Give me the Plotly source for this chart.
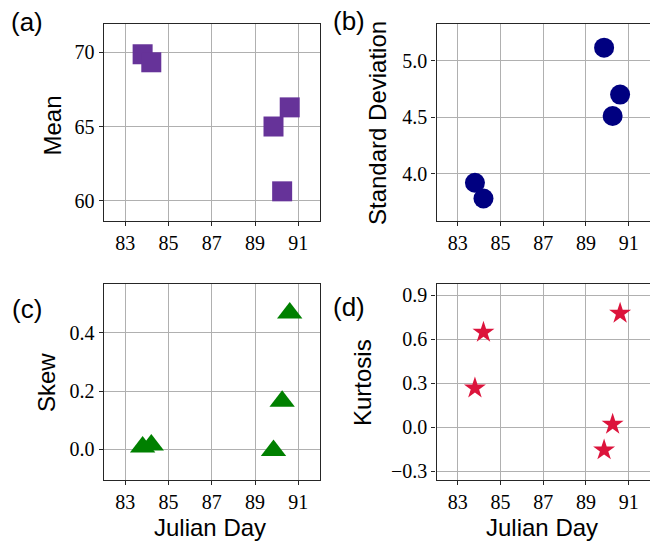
import plotly.graph_objects as go

# ---- data ----
julian_day = [83.8, 84.2, 89.85, 90.25, 90.6]
mean_vals = [69.87, 69.33, 65.0, 60.63, 66.29]
std_vals = [3.92, 3.78, 5.115, 4.51, 4.70]
skew_vals = [0.008, 0.015, -0.004, 0.165, 0.468]
kurt_vals = [0.266, 0.646, -0.155, 0.02, 0.775]

x_ticks = [83, 85, 87, 89, 91]
x_ticktext = ["83", "85", "87", "89", "91"]
mean_ticks = [60, 65, 70]
mean_ticktext = ["60", "65", "70"]
std_ticks = [4.0, 4.5, 5.0]
std_ticktext = ["4.0", "4.5", "5.0"]
skew_ticks = [0.0, 0.2, 0.4]
skew_ticktext = ["0.0", "0.2", "0.4"]
kurt_ticks = [-0.3, 0.0, 0.3, 0.6, 0.9]
kurt_ticktext = ["\u22120.3", "0.0", "0.3", "0.6", "0.9"]

W, H = 650, 543
SERIF = "Liberation Serif"
LABELFONT = dict(family="Liberation Sans, Arial, sans-serif", size=24, color="#000000")
PANELFONT = dict(family="Liberation Sans, Arial, sans-serif", size=26, color="#000000")


def px_x(v):
    return v / W


def px_y(v):
    return 1 - v / H


fig = go.Figure()

panels = [
    ("x", "y", mean_vals, "square", 20, "#663399", (103.7, 320.0), (24.3, 221.0), [58.63, 71.89], mean_ticks, mean_ticktext),
    ("x2", "y2", std_vals, "circle", 20, "#000080", (436.5, 650.0), (24.3, 221.0), [3.581, 5.322], std_ticks, std_ticktext),
    ("x3", "y3", skew_vals, "triangle-up", 22, "#008000", (103.7, 320.0), (284.0, 480.0), [-0.1055, 0.568], skew_ticks, skew_ticktext),
    ("x4", "y4", kurt_vals, "star", 16.5, "#DC143C", (436.5, 650.0), (284.0, 480.0), [-0.359, 0.975], kurt_ticks, kurt_ticktext),
]

for i, (xa, ya, yv, sym, sz, col, xd, yd, yr, yt, ytt) in enumerate(panels):
    fig.add_trace(go.Scatter(
        x=julian_day, y=yv, mode="markers", xaxis=xa, yaxis=ya,
        marker=dict(symbol=sym, size=sz, color=col, line=dict(width=0)),
        showlegend=False, cliponaxis=False,
    ))
    xkey = "xaxis" if i == 0 else f"xaxis{i+1}"
    ykey = "yaxis" if i == 0 else f"yaxis{i+1}"
    common = dict(
        showgrid=True, gridcolor="#b0b0b0", gridwidth=1,
        showline=True, linecolor="#262626", linewidth=1.3, mirror=True,
        ticks="outside", ticklen=4, tickwidth=1, tickcolor="#262626",
        zeroline=False, automargin=False,
    )
    fig.update_layout({
        xkey: dict(domain=[px_x(xd[0]), min(1.0, px_x(xd[1]))], range=[82, 92],
                   tickmode="array", tickvals=x_ticks, ticktext=x_ticktext,
                   tickfont=dict(family=SERIF, size=20, color="#000000"),
                   anchor=ya, **common),
        ykey: dict(domain=[px_y(yd[1]), px_y(yd[0])], range=yr,
                   tickmode="array", tickvals=yt, ticktext=ytt,
                   tickfont=dict(family=SERIF, size=20, color="#000000"),
                   anchor=xa, **common),
    })

annotations = []
for text, cx, cy, rot in [
    ("Mean", 52.5, 126, -90),
    ("Standard Deviation", 378, 123, -90),
    ("Skew", 46, 383, -90),
    ("Kurtosis", 362, 383, -90),
    ("Julian Day", 210, 527, 0),
    ("Julian Day", 542, 527, 0),
]:
    annotations.append(dict(text=text, x=px_x(cx), y=px_y(cy), xref="paper", yref="paper",
                            xanchor="center", yanchor="middle", showarrow=False,
                            textangle=rot, font=LABELFONT))
for text, cx, cy in [("(a)", 27, 22), ("(b)", 349, 21), ("(c)", 27, 309), ("(d)", 349, 307)]:
    annotations.append(dict(text=text, x=px_x(cx), y=px_y(cy), xref="paper", yref="paper",
                            xanchor="center", yanchor="middle", showarrow=False,
                            font=PANELFONT))

fig.update_layout(
    width=W, height=H,
    margin=dict(l=0, r=0, t=0, b=0),
    paper_bgcolor="white", plot_bgcolor="white",
    annotations=annotations,
)

fig.write_html("out.html")
